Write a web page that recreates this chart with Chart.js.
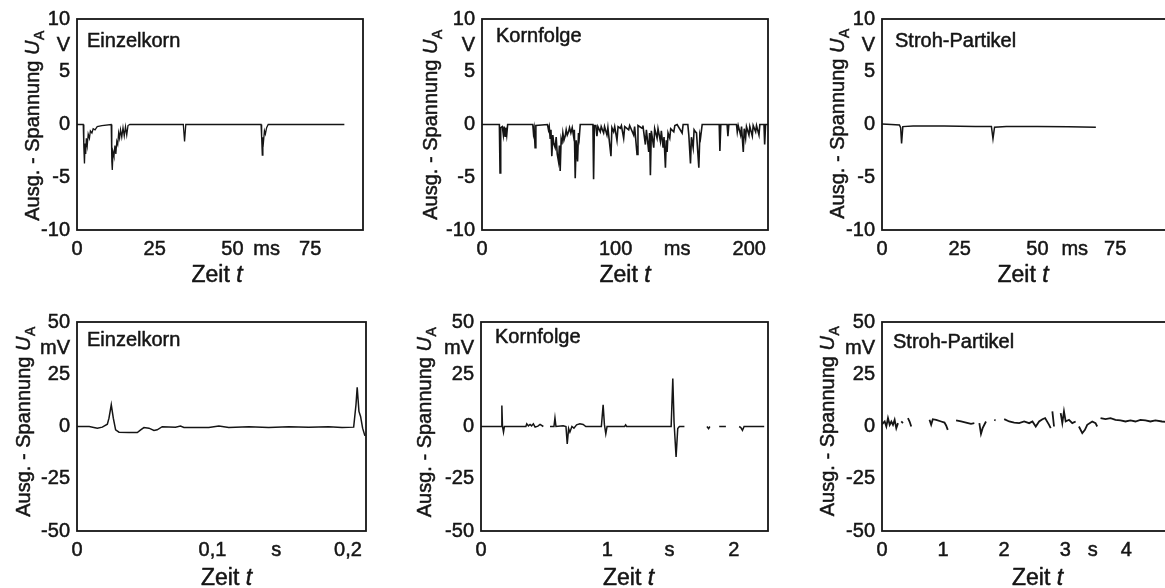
<!DOCTYPE html>
<html><head><meta charset="utf-8">
<script src="https://cdn.jsdelivr.net/npm/chart.js@4.4.0/dist/chart.umd.min.js"></script>
<style>
html,body{margin:0;padding:0;background:#fff;overflow:hidden;width:1165px;height:588px;position:relative;}
canvas{position:absolute;}
</style></head><body>
<canvas id="c1"></canvas><canvas id="c2"></canvas><canvas id="c3"></canvas>
<canvas id="c4"></canvas><canvas id="c5"></canvas><canvas id="c6"></canvas>
<script>
// ---------- DATA ----------
// Top row: output voltage in V over time in ms
const tEinzelV = [0, 2.0, 2.2, 2.4, 2.6, 2.8, 3.0, 3.3, 3.6, 4.0,
  4.3, 4.8, 5.2, 5.8, 6.5, 8,
  11.0, 11.2, 11.35, 11.6, 11.9, 12.2, 12.5, 12.8, 13.1, 13.4,
  13.7, 14.0, 14.4, 14.8, 15.2, 15.6, 16.0, 16.4, 17,
  34.2, 34.6, 35.0,
  59.2, 59.4, 59.6, 59.8, 60.0, 60.3, 60.6, 61.0, 61.5, 86];
const uEinzelV = [0, 0, -2.2, -3.7, -1.8, -2.8, -1.3, -2.0, -0.9, -1.3,
  -0.6, -0.8, -0.4, -0.5, -0.2, -0.1,
  0, -3.5, -4.3, -2.6, -3.0, -2.0, -2.8, -1.6, -1.9, -0.8,
  -1.3, -0.5, -1.2, -0.3, -1.1, -0.2, -1.0, -0.1, 0,
  0, -1.6, 0,
  0, -1.3, -2.9, -1.2, -1.6, -0.6, -0.9, -0.3, 0, 0];

const tKornV = [0, 13.0, 13.5, 14.0, 15.2, 16.0, 16.6, 17.25, 17.8, 18.5,
  19.2, 38.0, 38.5, 39.0, 39.75, 40.3, 49.0, 49.75, 50.3, 51.0,
  51.6, 52.25, 53.0, 53.7, 54.75, 55.5, 56.3, 57.25, 57.9, 58.5,
  59.2, 59.75, 60.5, 61.3, 62.25, 63.0, 63.8, 64.75, 65.5, 66.5,
  67.5, 68.5, 69.1, 69.75, 70.5, 71.5, 72.2, 72.75, 73.5, 83.0,
  83.5, 84.1, 85.2, 86.0, 86.7, 88.5, 89.2, 91.0, 91.7, 93.5,
  94.2, 96.5, 97.2, 98.5, 99.3, 101.0, 101.8, 103.5, 104.3, 106.0,
  106.8, 109.75, 110.5, 113.5, 114.2, 116.0, 116.7, 119.75, 120.4, 122.25,
  123.0, 124.75, 125.4, 126.0, 126.7, 128.5, 129.2, 131.0, 131.7, 133.5,
  134.2, 135.5, 136.2, 137.25, 137.9, 138.5, 139.2, 140.5, 141.2, 143.5,
  144.3, 146.0, 149.75, 150.5, 154.0, 154.75, 156.0, 156.7, 158.0, 158.7,
  159.75, 160.5, 162.25, 163.0, 163.5, 164.75, 177.5, 178.0, 178.7, 183.4,
  184.0, 184.7, 190.4, 191.0, 191.7, 193.5, 194.2, 195.5, 196.2, 197.25,
  197.9, 199.75, 200.4, 202.25, 202.9, 204.75, 205.4, 207.25, 207.9, 211.0,
  211.5, 212.2, 214];
const uKornV = [0, 0, -4.6, -0.3, -0.2, -1.0, -0.2, -1.1, -0.3, -1.0,
  0, 0, -0.8, -0.4, -2.2, -0.1, 0, -0.5, -0.2, -1.3,
  -0.5, -3.0, -1.0, -1.8, -2.2, -1.2, -2.8, -3.5, -2.0, -4.4,
  -1.5, -1.9, -0.8, -1.5, -1.1, -0.5, -1.0, -0.7, -0.3, -0.8,
  -0.3, -1.1, -0.5, -5.1, -1.5, -3.5, -0.8, -1.3, 0, 0,
  -5.2, -0.1, -0.1, -1.1, -0.2, -0.7, -0.2, -0.8, -0.2, -1.0,
  -0.3, -3.0, -0.3, -0.7, -0.2, -1.5, -0.2, -0.35, -0.1, -1.3,
  -0.2, -0.5, -0.1, -1.0, -0.2, -2.85, -0.1, -0.35, -0.1, -1.9,
  -0.5, -2.6, -0.8, -4.8, -0.6, -2.2, -0.4, -1.3, -0.4, -1.6,
  -0.6, -2.2, -1.2, -4.1, -1.5, -2.6, -0.8, -1.3, -0.4, -0.7,
  -0.1, 0, -0.8, 0, 0, -1.0, -3.7, -1.2, -2.2, -0.5,
  -0.7, -0.8, -4.1, -1.0, -1.3, 0, 0, -2.5, 0, 0,
  -1.1, 0, 0, -0.7, -0.1, -1.0, -0.2, -2.6, -0.4, -1.3,
  -0.2, -1.0, -0.2, -1.1, -0.1, -0.7, -0.1, -1.0, 0, 0,
  -1.9, 0, 0];

const tStrohV = [0, 3, 5.6, 6.0, 6.3, 6.7, 10, 20, 30, 35.2, 35.7, 36.2, 40, 50, 60, 68.8];
const uStrohV = [0.05, 0, -0.05, -0.3, -1.8, -0.2, -0.15, -0.15, -0.18, -0.2, -1.35, -0.25, -0.2, -0.2, -0.22, -0.25];

// Bottom row: output voltage in mV over time in s
const tEinzelMV = [0, 0.009, 0.015, 0.0187, 0.0224, 0.0236, 0.0253, 0.0268, 0.0285, 0.031,
  0.0383, 0.0445, 0.047, 0.0494, 0.0531, 0.0568, 0.0592, 0.0629, 0.0727, 0.0764,
  0.0789, 0.0973, 0.1047, 0.112, 0.1268, 0.1415, 0.1563, 0.171, 0.1857, 0.1956,
  0.2042, 0.2059, 0.2068, 0.2081, 0.2093, 0.2108, 0.2125];
const uEinzelMV = [0, 0, -0.8, -0.3, 1.1, 4, 10.4, 4.0, -1.6, -2.7,
  -2.9, -2.9, -1.6, -0.5, -0.8, -1.9, -1.6, -0.1, -0.3, 0.2,
  -0.5, -0.5, 0.2, -0.5, -0.1, -0.5, -0.1, -0.3, -0.1, -0.5,
  -0.3, 10.4, 18.7, 7.2, 4.8, -0.8, -4.5];

const tKornMV = [0, 0.16, 0.165, 0.17, 0.178, 0.185, 0.355, 0.362, 0.375, 0.388,
  0.40, 0.414, 0.428, 0.45, 0.467, 0.493, 0.506, 0.546, 0.577, 0.585,
  0.593, 0.65, 0.672, 0.682, 0.693, 0.703, 0.719, 0.735, 0.756, 0.782,
  0.808, 0.829, 0.952, 0.966, 0.976, 0.987, 0.997, 1.136, 1.144, 1.152,
  1.504, 1.517, 1.527, 1.543, 1.556, 1.569, 1.609, 1.62, 1.787, 1.80,
  1.81, 1.82, 1.884, 1.937, 1.95, 2.042, 2.055, 2.068, 2.081, 2.24];
const uKornMV = [0, 0, 10, 0, -2.7, 0, 0, 1.3, 0.3, 1.0,
  0.3, 1.3, -0.3, 0.2, 1.0, 0, null, 0, 0, 4.1,
  0, 0.3, 0, -8.3, -1, -2.7, 0, -0.8, 0.8, 1.3,
  1.0, 0, 0, 10.4, 1, -3.5, 0, 0, 0.8, 0,
  0, 23, 2, -14.6, -1, 0, 0, null, 0, -1.0,
  0, null, 0, 0, null, 0, -0.5, -1.8, 0, 0];

const tStrohMV = [0, 0.017, 0.044, 0.071, 0.098, 0.126, 0.153, 0.18, 0.207, 0.234,
  0.262, 0.28, 0.316, 0.343, 0.36, 0.425, 0.452, 0.479, 0.50, 0.778,
  0.805, 0.832, 0.887, 0.969, 1.023, 1.05, 1.077, 1.10, 1.213, 1.295,
  1.376, 1.458, 1.512, 1.55, 1.594, 1.621, 1.648, 1.703, 1.72, 1.839,
  1.86, 1.9, 2.001, 2.083, 2.165, 2.246, 2.328, 2.41, 2.464, 2.518,
  2.573, 2.627, 2.671, 2.736, 2.763, 2.775, 2.79, 2.817, 2.85, 2.926,
  2.953, 2.98, 3.008, 3.062, 3.116, 3.171, 3.2, 3.225, 3.28, 3.323,
  3.361, 3.443, 3.497, 3.524, 3.55, 3.579, 3.661, 3.742, 3.824, 3.905,
  3.987, 4.069, 4.15, 4.232, 4.314, 4.395, 4.477, 4.586, 4.65];
const uStrohMV = [1.0, 1.6, 2.4, 0, 4, 0.8, 2.4, 0.8, 3.2, -0.8,
  1.6, null, 2.4, 1.6, null, 4, 2.4, 0, null, 3.2,
  0.8, 3.5, 3.2, 2.4, 1.9, 0.5, -1.6, null, 2.9, 2.4,
  1.9, 1.3, 1.6, null, 1.6, -3.5, -0.8, 2.4, null, 3.2,
  2.9, null, 3.5, 2.4, 1.9, 1.6, 2.4, 1.6, 2.4, 0,
  2.4, 3.5, 4.0, 0.8, -0.8, null, 7.2, 0, null, 6.4,
  1.6, 7.2, 2.4, 3.2, 1.6, 2.4, null, 0, -3.2, -1.6,
  0.8, 2.4, 1.6, 0, null, 4.0, 3.5, 4.0, 3.2, 2.9,
  2.4, 2.9, 2.4, 3.2, 2.9, 2.4, 2.9, 2.4, 2.2];

// Tick values and labels (unit labels sit in the tick rows)
const yTicksV = [-10, -5, 0, 5, 7.5, 10];
const yLabelsV = ['-10', '-5', '0', '5', 'V', '10'];
const yTicksMV = [-50, -25, 0, 25, 37.5, 50];
const yLabelsMV = ['-50', '-25', '0', '25', 'mV', '50'];
const xTicksEinzelV = [0, 25, 50, 61, 75];
const xLabelsEinzelV = ['0', '25', '50', 'ms', '75'];
const xTicksKornV = [0, 100, 146, 200];
const xLabelsKornV = ['0', '100', 'ms', '200'];
const xTicksStrohV = [0, 25, 50, 62, 75];
const xLabelsStrohV = ['0', '25', '50', 'ms', '75'];
const xTicksEinzelMV = [0, 0.1, 0.147, 0.2];
const xLabelsEinzelMV = ['0', '0,1', 's', '0,2'];
const xTicksKornMV = [0, 1, 1.49, 2];
const xLabelsKornMV = ['0', '1', 's', '2'];
const xTicksStrohMV = [0, 1, 2, 3, 3.45, 4];
const xLabelsStrohMV = ['0', '1', '2', '3', 's', '4'];

const panelNames = ['Einzelkorn', 'Kornfolge', 'Stroh-Partikel'];
const xTitleText = 'Zeit ';
const xTitleVar = 't';
const yTitleText = 'Ausg. - Spannung ';

// ---------- DRAWING ----------
const FONT = '"Liberation Sans", Arial, Helvetica, sans-serif';
const INK = '#151515';
const PAD_L = 100, PAD_T = 20, PAD_R = 15, PAD_B = 70;

function inkText(ctx, s, x, y) {
  ctx.fillText(s, x, y);
  ctx.strokeText(s, x, y);
}

const decor = {
  id: 'decor',
  afterDraw(chart, args, o) {
    const ctx = chart.ctx, a = chart.chartArea;
    ctx.save();
    ctx.strokeStyle = INK; ctx.lineWidth = 1.8;
    ctx.strokeRect(a.left, a.top, a.right - a.left, a.bottom - a.top);
    ctx.fillStyle = INK;
    ctx.lineWidth = 0.5; ctx.lineJoin = 'round';
    ctx.textBaseline = 'alphabetic'; ctx.textAlign = 'left';
    // panel label
    ctx.font = '20px ' + FONT;
    inkText(ctx, o.label, a.left + o.labelDx, a.top + o.labelDy);
    // x title
    ctx.font = '23px ' + FONT;
    const w1 = ctx.measureText(xTitleText).width;
    ctx.font = 'italic 23px ' + FONT;
    const w2 = ctx.measureText(xTitleVar).width;
    const x0 = (a.left + a.right) / 2 + o.xTitleDx - (w1 + w2) / 2;
    const yb = a.bottom + o.xTitleDy;
    ctx.font = '23px ' + FONT; inkText(ctx, xTitleText, x0, yb);
    ctx.font = 'italic 23px ' + FONT; inkText(ctx, xTitleVar, x0 + w1, yb);
    // y title (rotated)
    ctx.translate(a.left - o.yTitleOff, (a.top + a.bottom) / 2 + o.yTitleDy);
    ctx.rotate(-Math.PI / 2);
    ctx.font = '20px ' + FONT;
    const m1 = ctx.measureText(yTitleText).width;
    ctx.font = 'italic 20px ' + FONT;
    const m2 = ctx.measureText('U').width;
    ctx.font = '14px ' + FONT;
    const m3 = ctx.measureText('A').width;
    const sx = -(m1 + m2 + m3) / 2;
    ctx.font = '20px ' + FONT; inkText(ctx, yTitleText, sx, 0);
    ctx.font = 'italic 20px ' + FONT; inkText(ctx, 'U', sx + m1, 0);
    ctx.font = '14px ' + FONT; inkText(ctx, 'A', sx + m1 + m2 + 0.5, 5);
    ctx.restore();
  }
};

function makePanel(id, p) {
  const cv = document.getElementById(id);
  const W = PAD_L + p.w + PAD_R, H = PAD_T + p.h + PAD_B;
  cv.width = W; cv.height = H;
  cv.style.width = W + 'px'; cv.style.height = H + 'px';
  cv.style.left = (p.L - PAD_L) + 'px'; cv.style.top = (p.T - PAD_T) + 'px';
  const tickFont = {family: FONT, size: 20};
  new Chart(cv, {
    type: 'line',
    data: {datasets: [{
      data: p.t.map((x, i) => ({x: x, y: p.u[i]})),
      borderColor: INK, borderWidth: p.lw, pointRadius: 0, tension: 0,
      spanGaps: false, fill: false
    }]},
    options: {
      responsive: false, animation: false, events: [],
      layout: {padding: {left: 0, top: PAD_T, right: PAD_R, bottom: 0}},
      plugins: {legend: {display: false}, tooltip: {enabled: false}, decor: p.decor},
      scales: {
        x: {
          type: 'linear', min: 0, max: p.xmax,
          grid: {display: false, drawTicks: false}, border: {display: false},
          afterBuildTicks: s => { s.ticks = p.xt.map(v => ({value: v})); },
          afterFit: s => { s.height = PAD_B; s.paddingLeft = 0; s.paddingRight = 0; },
          ticks: {autoSkip: false, maxRotation: 0, padding: 7, color: INK, font: tickFont,
                  textStrokeColor: INK, textStrokeWidth: 0.5,
                  callback: (v, i) => p.xl[i]}
        },
        y: {
          type: 'linear', min: p.ymin, max: p.ymax,
          grid: {display: false, drawTicks: false}, border: {display: false},
          afterBuildTicks: s => { s.ticks = p.yt.map(v => ({value: v})); },
          afterFit: s => { s.width = PAD_L; s.paddingTop = 0; s.paddingBottom = 0; },
          ticks: {autoSkip: false, padding: 7, color: INK, font: tickFont,
                  textStrokeColor: INK, textStrokeWidth: 0.5,
                  callback: (v, i) => p.yl[i]}
        }
      }
    },
    plugins: [decor]
  });
}

makePanel('c1', {L: 77, T: 19, w: 286, h: 211, xmax: 92, ymin: -10, ymax: 10,
  t: tEinzelV, u: uEinzelV, lw: 1.3, xt: xTicksEinzelV, xl: xLabelsEinzelV, yt: yTicksV, yl: yLabelsV,
  decor: {label: panelNames[0], labelDx: 10, labelDy: 28, xTitleDx: -3, xTitleDy: 52, yTitleOff: 38, yTitleDy: 1.5}});
makePanel('c2', {L: 482, T: 19, w: 286, h: 211, xmax: 214, ymin: -10, ymax: 10,
  t: tKornV, u: uKornV, lw: 1.6, xt: xTicksKornV, xl: xLabelsKornV, yt: yTicksV, yl: yLabelsV,
  decor: {label: panelNames[1], labelDx: 14, labelDy: 23, xTitleDx: 0, xTitleDy: 52, yTitleOff: 45, yTitleDy: 0.5}});
makePanel('c3', {L: 882, T: 19, w: 286, h: 211, xmax: 92, ymin: -10, ymax: 10,
  t: tStrohV, u: uStrohV, lw: 1.5, xt: xTicksStrohV, xl: xLabelsStrohV, yt: yTicksV, yl: yLabelsV,
  decor: {label: panelNames[2], labelDx: 13, labelDy: 28, xTitleDx: -2, xTitleDy: 52, yTitleOff: 38, yTitleDy: -0.5}});
makePanel('c4', {L: 77, T: 322, w: 289, h: 209, xmax: 0.2133, ymin: -50, ymax: 50,
  t: tEinzelMV, u: uEinzelMV, lw: 1.5, xt: xTicksEinzelMV, xl: xLabelsEinzelMV, yt: yTicksMV, yl: yLabelsMV,
  decor: {label: panelNames[0], labelDx: 10, labelDy: 24, xTitleDx: 5, xTitleDy: 54, yTitleOff: 47, yTitleDy: -4.5}});
makePanel('c5', {L: 481, T: 322, w: 287, h: 209, xmax: 2.27, ymin: -50, ymax: 50,
  t: tKornMV, u: uKornMV, lw: 1.5, xt: xTicksKornMV, xl: xLabelsKornMV, yt: yTicksMV, yl: yLabelsMV,
  decor: {label: panelNames[1], labelDx: 14, labelDy: 21, xTitleDx: 4, xTitleDy: 54, yTitleOff: 50, yTitleDy: -4}});
makePanel('c6', {L: 882, T: 322, w: 287, h: 209, xmax: 4.7, ymin: -50, ymax: 50,
  t: tStrohMV, u: uStrohMV, lw: 1.8, xt: xTicksStrohMV, xl: xLabelsStrohMV, yt: yTicksMV, yl: yLabelsMV,
  decor: {label: panelNames[2], labelDx: 11, labelDy: 26, xTitleDx: 12, xTitleDy: 54, yTitleOff: 48, yTitleDy: -5}});
</script>
</body></html>
